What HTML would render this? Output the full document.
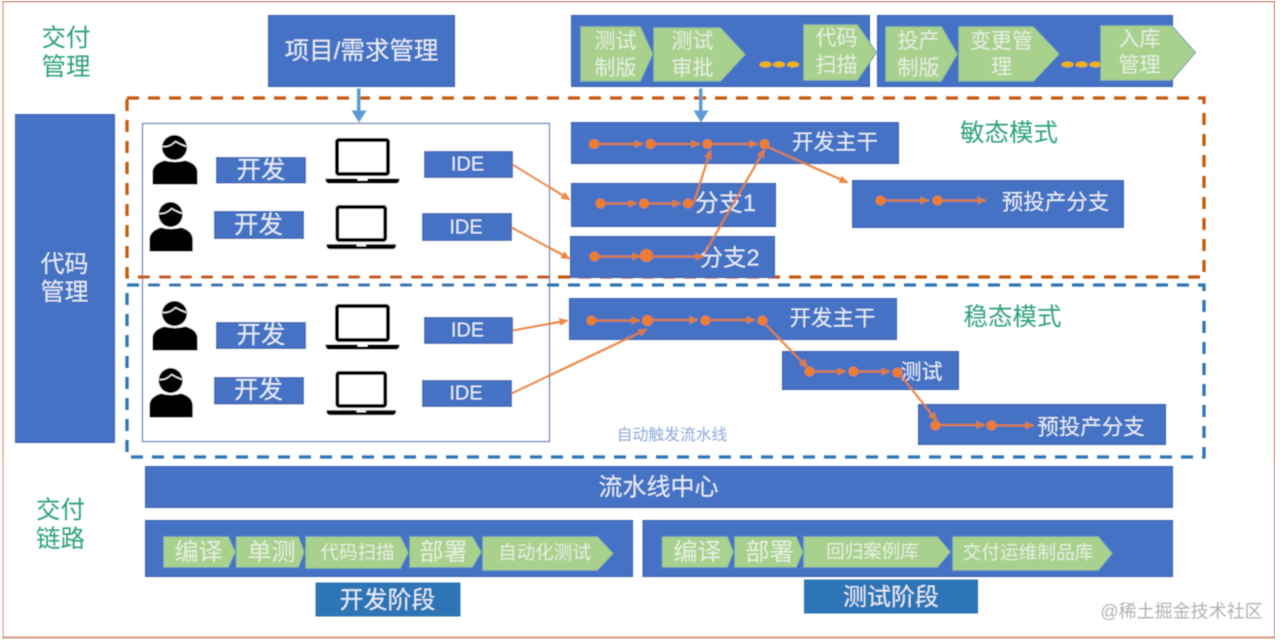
<!DOCTYPE html>
<html><head><meta charset="utf-8"><style>
html,body{margin:0;padding:0;background:#fff;width:1280px;height:641px;overflow:hidden}
svg{display:block}
text{font-family:"Liberation Sans","Noto Sans CJK SC",sans-serif;text-anchor:middle;dominant-baseline:central}
.b{fill:#4472c4;stroke:#3a64ad;stroke-width:1}
.c{fill:#a9d18e;stroke:#6f9fb0;stroke-width:1}
.w{fill:#e6edf8}
.g{fill:#e4efdf}
.t{fill:#2fa276;font-size:24.500px}
.o{stroke:#ed7d31;stroke-width:2.200;fill:none;opacity:.9}
.d{fill:#ed7d31}
.y{fill:#f2b200}
</style></head><body>
<svg width="1280" height="641" viewBox="0 0 1280 641" xmlns="http://www.w3.org/2000/svg">
<defs>
<filter id="s" x="0" y="0" width="100%" height="100%"><feGaussianBlur stdDeviation="0.5"/></filter>
<marker id="a" markerWidth="9" markerHeight="8" refX="8" refY="4" orient="auto" markerUnits="userSpaceOnUse"><path d="M0 0L9 4L0 8z" fill="#ed7d31"/></marker>
<g id="p"><circle cx="22" cy="13" r="12.500" fill="#000"/><path d="M10 12Q17 13 23 7Q28 10 34 12" fill="none" stroke="#fff" stroke-width="1.200"/><path d="M0 50V37Q1 29 12 26Q22 29 33 26Q44 29 45 37V50z" fill="#000"/></g>
<g id="l"><rect x="11.500" y="1.500" width="51" height="34" rx="2" fill="#fff" stroke="#000" stroke-width="4"/><path d="M0 40H74V42Q73 45 70 45H4Q1 45 0 42z" fill="#000"/><rect x="32" y="40" width="10" height="2" fill="#fff"/></g>
</defs>
<g filter="url(#s)" transform="translate(.5 .5)">
<path d="M2 639V.5H1274.500V637H2" fill="none" stroke="#e8795f" stroke-width="2"/>
<path d="M2 637H1274.500" stroke="#cf9a84" stroke-width="2"/>
<path d="M2 460V637M1274.500 460V637" stroke="#cf9a84" stroke-width="2"/>

<text class="t" x="65.500" y="38">交付</text><text class="t" x="65.500" y="67">管理</text>
<text class="t" x="60" y="510">交付</text><text class="t" x="60" y="539">链路</text>

<rect class="b" x="268" y="15" width="186" height="71"/>
<text class="w" x="361" y="51" font-size="24.500">项目/需求管理</text>
<rect class="b" x="571" y="15" width="298" height="71"/>
<rect class="b" x="877" y="15" width="295" height="71"/>

<path class="c" d="M580 26H640L652.500 53.500L640 81H580z"/>
<text class="g" font-size="21" x="615" y="41">测试</text><text class="g" font-size="21" x="615" y="68">制版</text>
<path class="c" d="M653 27H720L745 54L720 81H653z"/>
<text class="g" font-size="21" x="692" y="41">测试</text><text class="g" font-size="21" x="692" y="68">审批</text>
<ellipse class="y" cx="765" cy="64" rx="6" ry="3"/><ellipse class="y" cx="778.500" cy="64" rx="6" ry="3"/><ellipse class="y" cx="792.500" cy="64" rx="6" ry="3"/>
<path class="c" d="M803 24H857L876 52L857 80H803z"/>
<text class="g" font-size="21" x="836" y="38">代码</text><text class="g" font-size="21" x="836" y="65">扫描</text>
<path class="c" d="M885 26H941L957 53.500L941 81H885z"/>
<text class="g" font-size="21" x="918" y="41">投产</text><text class="g" font-size="21" x="918" y="68">制版</text>
<path class="c" d="M958 26H1033L1059 53.500L1033 81H958z"/>
<text class="g" font-size="21" x="1001" y="41">变更管</text><text class="g" font-size="21" x="1001" y="67">理</text>
<ellipse class="y" cx="1067" cy="64" rx="6" ry="3"/><ellipse class="y" cx="1081" cy="64" rx="6" ry="3"/><ellipse class="y" cx="1095" cy="64" rx="6" ry="3"/>
<path class="c" d="M1100 25H1171L1195 52L1171 80H1100z"/>
<text class="g" font-size="21" x="1139" y="39">入库</text><text class="g" font-size="21" x="1139" y="65">管理</text>

<rect class="b" x="15" y="114" width="99" height="328"/>
<text class="w" x="64" y="264" font-size="24">代码</text><text class="w" x="64" y="292" font-size="24">管理</text>

<rect x="142" y="123" width="407" height="318" fill="#fff" stroke="#5b7db8" stroke-width="1.200"/>

<rect x="126.500" y="97.500" width="1077" height="179" fill="none" stroke="#c55a11" stroke-width="3.300" stroke-dasharray="12 9"/>
<rect x="126.500" y="284.500" width="1077" height="172" fill="none" stroke="#2e75b6" stroke-width="3.300" stroke-dasharray="12 9"/>

<g fill="#5b9bd5"><rect x="356.500" y="88" width="3.500" height="24"/><path d="M351 110H366L358.500 122z"/><rect x="698.500" y="88" width="3.500" height="24"/><path d="M693 110H708L700.500 122z"/></g>

<use href="#p" x="152" y="134"/><use href="#p" transform="translate(149 201) scale(.96 1)"/>
<use href="#p" x="152" y="300"/><use href="#p" transform="translate(149 367) scale(.96 1)"/>
<use href="#l" x="325" y="138"/><use href="#l" transform="translate(326 205) scale(.94 .97)"/>
<use href="#l" x="325" y="304"/><use href="#l" transform="translate(326 371) scale(.94 .97)"/>

<rect class="b" x="216" y="157" width="89" height="25.500"/><text class="w" x="260.500" y="170" font-size="24.500">开发</text>
<rect class="b" x="214" y="211" width="89" height="27"/><text class="w" x="258" y="225" font-size="24.500">开发</text>
<rect class="b" x="216" y="322" width="89" height="26"/><text class="w" x="260.500" y="335" font-size="24.500">开发</text>
<rect class="b" x="214" y="377" width="89" height="26.500"/><text class="w" x="258" y="390" font-size="24.500">开发</text>

<rect class="b" x="424" y="151" width="88" height="26"/><text class="w" x="467" y="164" font-size="20">IDE</text>
<rect class="b" x="422" y="213" width="89" height="27"/><text class="w" x="465.500" y="227" font-size="20">IDE</text>
<rect class="b" x="424" y="317" width="88" height="26"/><text class="w" x="467" y="330" font-size="20">IDE</text>
<rect class="b" x="422" y="380" width="89" height="26"/><text class="w" x="465.500" y="393" font-size="20">IDE</text>

<rect class="b" x="571" y="122" width="327" height="41"/><text class="w" x="834.500" y="142" font-size="21.500">开发主干</text>
<rect class="b" x="571" y="183" width="204" height="43"/><text class="w" x="725" y="203" font-size="24">分支1</text>
<rect class="b" x="570" y="236" width="204" height="41"/><text class="w" x="729" y="257" font-size="23.500">分支2</text>
<rect class="b" x="852" y="180" width="271" height="47"/><text class="w" x="1055" y="202" font-size="21.500">预投产分支</text>
<text class="t" x="1008.500" y="133">敏态模式</text>

<rect class="b" x="569" y="298" width="327" height="41"/><text class="w" x="832" y="318" font-size="21.500">开发主干</text>
<rect class="b" x="782" y="351" width="176" height="38"/><text class="w" x="921" y="372" font-size="21">测试</text>
<rect class="b" x="918" y="404" width="247" height="40"/><text class="w" x="1090.500" y="427" font-size="21.500">预投产分支</text>
<text class="t" x="1012" y="317">稳态模式</text>
<text x="671.500" y="435" font-size="15.800" fill="#8ea9db">自动触发流水线</text>

<rect class="b" x="145" y="466" width="1027" height="41"/><text class="w" x="658" y="487" font-size="24">流水线中心</text>
<rect class="b" x="145" y="520" width="487" height="56"/>
<rect class="b" x="642.500" y="520" width="529.500" height="56"/>

<path class="c" d="M163 536H228L235 551.500L228 567H163z"/><text class="g" font-size="24" x="198" y="552">编译</text>
<path class="c" d="M235.500 536H298L304 551.500L298 567H235.500z"/><text class="g" font-size="24" x="271" y="552">单测</text>
<path class="c" d="M305 536H400L408 552L400 568H305z"/><text class="g" font-size="18.500" x="357" y="552">代码扫描</text>
<path class="c" d="M409 536H472L481 551.500L472 567H409z"/><text class="g" font-size="24" x="443" y="552">部署</text>
<path class="c" d="M482 536H597L613 553L597 570H482z"/><text class="g" font-size="18.500" x="544" y="552">自动化测试</text>

<path class="c" d="M661.500 536H727L733 551.500L727 567H661.500z"/><text class="g" font-size="24" x="697" y="552">编译</text>
<path class="c" d="M734 536H796L802.500 551.500L796 567H734z"/><text class="g" font-size="24" x="769" y="552">部署</text>
<path class="c" d="M803 536H937L950 551.500L937 567H803z"/><text class="g" font-size="18.500" x="872" y="551">回归案例库</text>
<path class="c" d="M952 536H1098L1112 553L1098 570H952z"/><text class="g" font-size="18.700" x="1027.500" y="552">交付运维制品库</text>

<rect x="315" y="582" width="145" height="34" fill="#2e75b6"/><text class="w" x="387" y="600" font-size="24">开发阶段</text>
<rect x="803.500" y="579" width="174" height="34" fill="#2e75b6"/><text class="w" x="890.500" y="597" font-size="24">测试阶段</text>

<g class="o">
<path marker-end="url(#a)" d="M512 164L569 199"/>
<path marker-end="url(#a)" d="M511 227L569 258"/>
<path marker-end="url(#a)" d="M512 330L567 320"/>
<path marker-end="url(#a)" d="M511 393L646 329"/>
<path marker-end="url(#a)" d="M594 143.500H642"/><path marker-end="url(#a)" d="M650 143.500H699"/><path marker-end="url(#a)" d="M707 143.500H757"/>
<path marker-end="url(#a)" d="M600 203H636"/><path marker-end="url(#a)" d="M644 203H680"/>
<path marker-end="url(#a)" d="M594 256H640"/><path marker-end="url(#a)" d="M647 256H703"/>
<path marker-end="url(#a)" d="M693 203L710 150"/><path marker-end="url(#a)" d="M704 253L764 149"/>
<path marker-end="url(#a)" d="M764 145L847 182"/>
<path marker-end="url(#a)" d="M880 200H928"/><path marker-end="url(#a)" d="M937 200H985"/>
<path marker-end="url(#a)" d="M591 320H639"/><path marker-end="url(#a)" d="M647 319.500H697"/><path marker-end="url(#a)" d="M705 319.500H754"/>
<path marker-end="url(#a)" d="M763 322L807 367"/>
<path marker-end="url(#a)" d="M809 371H845"/><path marker-end="url(#a)" d="M853 371H889"/>
<path marker-end="url(#a)" d="M898 372L936 420"/>
<path marker-end="url(#a)" d="M935 424.500H984"/><path marker-end="url(#a)" d="M991 425H1033"/>
</g>
<g class="d">
<circle cx="593.500" cy="143.500" r="5"/><circle cx="650" cy="143.500" r="5"/><circle cx="707" cy="143.500" r="5"/><circle cx="764" cy="143.500" r="5"/>
<circle cx="600" cy="203" r="5"/><circle cx="643.500" cy="203" r="5"/><circle cx="687.500" cy="203" r="5"/>
<circle cx="594" cy="256" r="5"/><circle cx="646" cy="255" r="6.500"/>
<circle cx="880" cy="200" r="5"/><circle cx="937" cy="200" r="5"/>
<circle cx="591" cy="320" r="5"/><circle cx="647" cy="320" r="5.500"/><circle cx="705" cy="320" r="5"/><circle cx="762" cy="320" r="5"/>
<circle cx="809" cy="371" r="5"/><circle cx="853" cy="371" r="5"/><circle cx="897" cy="372" r="5"/>
<circle cx="935" cy="425" r="5"/><circle cx="991" cy="425" r="5"/>
</g>
<text x="1181" y="611" font-size="18" fill="#b0b0b0">@稀土掘金技术社区</text>
</g>
</svg>
</body></html>
